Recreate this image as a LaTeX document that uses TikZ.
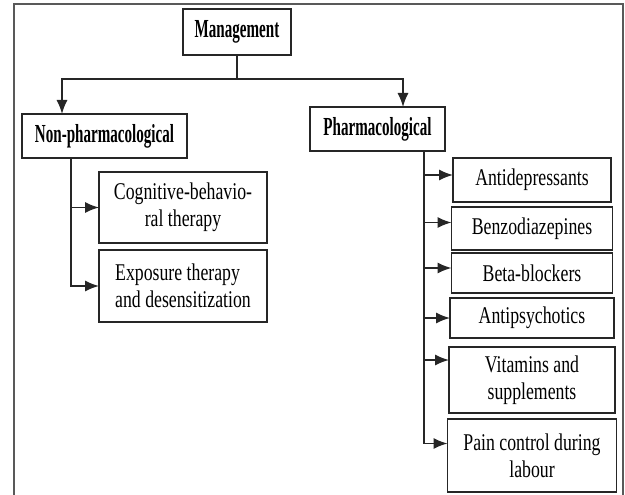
\documentclass[tikz,border=0pt]{standalone}
\usepackage{fontspec}
\setmainfont{Liberation Serif}
\newfontfamily\boxfont{Liberation Serif}[FakeStretch=0.74]
\newfontfamily\headfont{Liberation Serif}[FakeStretch=0.58]
\usetikzlibrary{arrows.meta,positioning}

\begin{document}
\begin{tikzpicture}[x=1pt, y=-1pt, node distance=5pt]
    \tikzstyle{head}  = [draw=black!85, line width=1.4pt, rectangle, text centered, font=\headfont\bfseries\fontsize{26}{28}\selectfont, inner sep=2pt, outer sep=0pt, minimum height=44pt]
    \tikzstyle{item}  = [draw=black!85, line width=1.4pt, rectangle, align=center, font=\boxfont\fontsize{24}{27}\selectfont, inner sep=2pt, outer sep=0pt]
    \tikzstyle{line}  = [black!85, line width=1.4pt]
    \tikzstyle{arrow} = [line, -{Latex[length=14pt,width=11pt]}]

    \useasboundingbox (0,0) rectangle (625,495);

    % Outer frame
    \draw [black!65, line width=1.6pt] (14,495) -- (14,4) -- (623,4) -- (623,495);

    % Top
    \node [head, minimum width=108pt, minimum height=46pt] (mgmt) at (237,32) {Management};
    \coordinate (split) at (237,79);

    % Two branches
    \node [head, minimum width=165pt] (nonph) at (104.5,136) {Non-pharmacological};
    \node [head, minimum width=135pt] (pharm) at (377.5,129) {Pharmacological};

    % Non-pharmacological
    \node [item, minimum width=168pt, minimum height=71pt] (cbt) at (183,207.5) {Cognitive-behavio-\\ral therapy};
    \node [item, minimum width=168pt, minimum height=72pt, below=7pt of cbt, align=left] (expo) {Exposure therapy\\and desensitization};

    % Pharmacological
    \node [item, minimum width=158pt, minimum height=44pt] (antid) at (532,180) {Antidepressants};
    \node [item, minimum width=161pt, minimum height=43pt, below=5pt of antid] (benzo) {Benzodiazepines};
    \node [item, minimum width=161pt, minimum height=40pt, below=3pt of benzo] (beta) {Beta-blockers};
    \node [item, minimum width=164pt, minimum height=40pt, below=5pt of beta] (antip) {Antipsychotics};
    \node [item, minimum width=166pt, minimum height=66pt, below=9pt of antip] (vit) {Vitamins and\\supplements};
    \node [item, minimum width=169pt, minimum height=73pt, below=6pt of vit] (pain) {Pain control during\\labour};

    % Connections
    \draw [line] (mgmt.south) -- (split);
    \draw [arrow] (split) -| ([xshift=40pt]nonph.north west);
    \draw [arrow] (split) -| ([xshift=93pt]pharm.north west);

    \draw [arrow] ([xshift=49pt]nonph.south west) |- (cbt.west);
    \draw [arrow] ([xshift=49pt]nonph.south west) |- (expo.west);

    \draw [arrow] ([xshift=114pt]pharm.south west) |- ([yshift=5pt]antid.west);
    \draw [arrow] ([xshift=114pt]pharm.south west) |- ([yshift=6pt]benzo.west);
    \draw [arrow] ([xshift=114pt]pharm.south west) |- ([yshift=5pt]beta.west);
    \draw [arrow] ([xshift=114pt]pharm.south west) |- (antip.west);
    \draw [arrow] ([xshift=114pt]pharm.south west) |- ([yshift=20pt]vit.west);
    \draw [arrow] ([xshift=114pt]pharm.south west) |- ([yshift=12pt]pain.west);
\end{tikzpicture}
\end{document}
